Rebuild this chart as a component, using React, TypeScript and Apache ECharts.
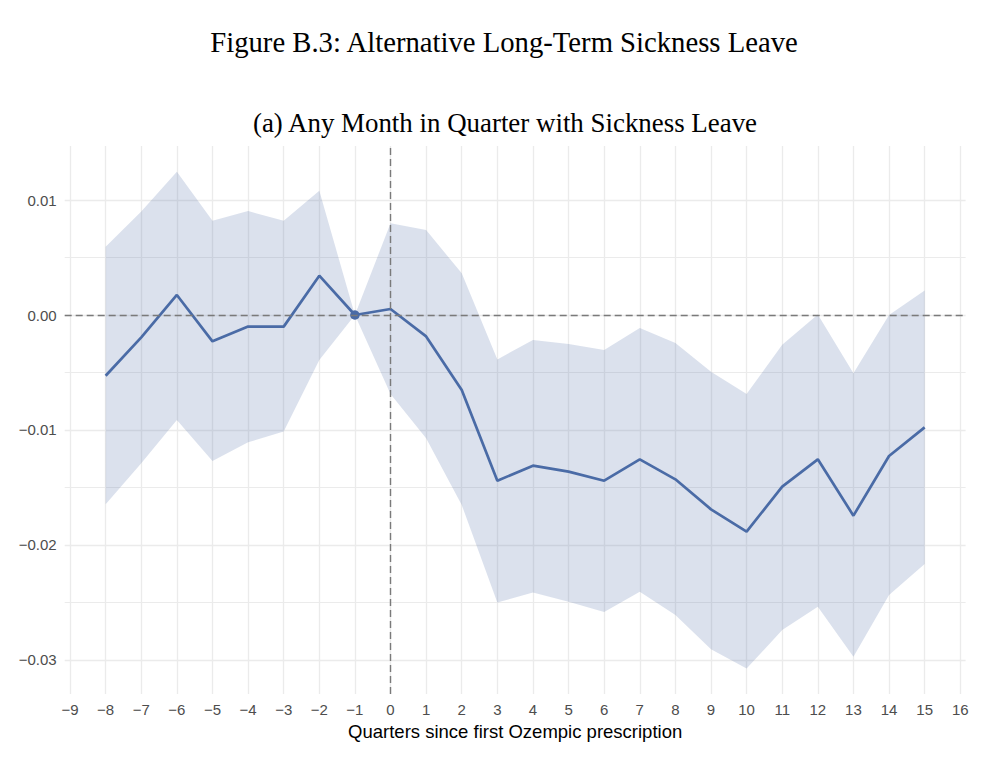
import React, { useEffect, useRef } from "react";
import * as echarts from "echarts";

const quarters = [-8, -7, -6, -5, -4, -3, -2, -1, 0, 1, 2, 3, 4, 5, 6, 7, 8, 9, 10, 11, 12, 13, 14, 15];
const estimates = [
  -0.00528, -0.00194, 0.00174, -0.00229, -0.00101, -0.00101, 0.00342, 0, 0.00052, -0.00186, -0.00652, -0.01441,
  -0.0131, -0.01362, -0.01441, -0.01255, -0.01429, -0.0169, -0.01884, -0.01493, -0.01255, -0.01745, -0.01226, -0.00977,
];
const ciUpper = [
  0.00594, 0.00901, 0.01246, 0.0082, 0.00904, 0.0082, 0.01081, 0, 0.00797, 0.00739, 0.00362, -0.00386,
  -0.00217, -0.00252, -0.00304, -0.00113, -0.00243, -0.00493, -0.00687, -0.00258, 0.00005, -0.00507, 0.0, 0.00212,
];
const ciLower = [
  -0.01646, -0.0129, -0.00913, -0.0127, -0.01107, -0.01014, -0.00391, 0, -0.00687, -0.01072, -0.01652, -0.02501,
  -0.02414, -0.02493, -0.02583, -0.02406, -0.02609, -0.02907, -0.03075, -0.02739, -0.02536, -0.02971, -0.02435, -0.02165,
];
const referencePoint = [-1, 0];
const xTicks = [-9, -8, -7, -6, -5, -4, -3, -2, -1, 0, 1, 2, 3, 4, 5, 6, 7, 8, 9, 10, 11, 12, 13, 14, 15, 16];
const yTicks = [-0.03, -0.02, -0.01, 0, 0.01];
const yMinorTicks = [-0.025, -0.015, -0.005, 0.005];

const titleText = "Figure B.3: Alternative Long-Term Sickness Leave";
const subtitleText = "(a) Any Month in Quarter with Sickness Leave";
const xAxisName = "Quarters since first Ozempic prescription";

const LINE_COLOR = "#4a6ba6";
const GRID_COLOR = "#ebebeb";
const SANS = "'Liberation Sans', Arial, sans-serif";
const SERIF = "'Liberation Serif', 'Times New Roman', serif";

const minus = (s: string) => s.replace("-", "\u2212");

export default function App() {
  const ref = useRef<HTMLDivElement>(null);

  useEffect(() => {
    document.body.style.margin = "0";
    if (!ref.current) return;
    const chart = echarts.init(ref.current, undefined, { renderer: "svg" });

    const bandData = quarters.map((q, i) => [q, ciLower[i], ciUpper[i]]);
    const yMin = -0.032957;
    const yMax = 0.014696;

    chart.setOption({
      animation: false,
      backgroundColor: "#ffffff",
      graphic: [
        {
          type: "text",
          x: 504,
          y: 42,
          style: {
            text: titleText,
            font: `28.7px ${SERIF}`,
            fill: "#000",
            textAlign: "center",
            textVerticalAlign: "middle",
          },
        },
        {
          type: "text",
          x: 505,
          y: 123,
          style: {
            text: subtitleText,
            font: `26.9px ${SERIF}`,
            fill: "#000",
            textAlign: "center",
            textVerticalAlign: "middle",
          },
        },
      ],
      grid: { left: 64.7, right: 25.4, top: 146, bottom: 66, containLabel: false },
      xAxis: {
        type: "value",
        min: -9.15,
        max: 16.15,
        name: xAxisName,
        nameLocation: "middle",
        nameGap: 21,
        nameTextStyle: { color: "#000", fontSize: 18.5, fontFamily: SANS },
        axisLine: { show: false },
        axisTick: { show: false, customValues: xTicks },
        axisLabel: {
          customValues: xTicks,
          color: "#4d4d4d",
          fontSize: 15,
          fontFamily: SANS,
          margin: 8,
          formatter: (v: number) => minus(String(v)),
        },
        splitLine: { show: true, lineStyle: { color: GRID_COLOR, width: 1.3 } },
      },
      yAxis: [
        {
          type: "value",
          min: yMin,
          max: yMax,
          axisLine: { show: false },
          axisTick: { show: false, customValues: yTicks },
          axisLabel: {
            customValues: yTicks,
            color: "#4d4d4d",
            fontSize: 15,
            fontFamily: SANS,
            margin: 8,
            formatter: (v: number) => (v < -1e-9 ? "\u2212" : "") + Math.abs(v).toFixed(2),
          },
          splitLine: { show: true, lineStyle: { color: GRID_COLOR, width: 1.3 } },
        },
        {
          type: "value",
          min: yMin,
          max: yMax,
          position: "left",
          axisLine: { show: false },
          axisTick: { show: false, customValues: yMinorTicks },
          axisLabel: { show: false, customValues: yMinorTicks },
          splitLine: { show: true, lineStyle: { color: GRID_COLOR, width: 1 } },
        },
      ],
      series: [
        {
          type: "custom",
          z: 1,
          data: bandData,
          encode: { x: 0, y: [1, 2] },
          renderItem: (params: any, api: any) => {
            if (params.dataIndex !== 0) return null;
            const upper = quarters.map((q, i) => api.coord([q, ciUpper[i]]));
            const lower = quarters.map((q, i) => api.coord([q, ciLower[i]])).reverse();
            return {
              type: "polygon",
              shape: { points: upper.concat(lower) },
              style: { fill: "rgba(74,107,166,0.2)", stroke: "none" },
              silent: true,
            };
          },
          markLine: {
            silent: true,
            symbol: "none",
            label: { show: false },
            lineStyle: { color: "#7a7a7a", width: 1.4, type: [7, 4] },
            data: [{ yAxis: 0 }, { xAxis: 0 }],
          },
        },
        {
          type: "line",
          z: 3,
          data: quarters.map((q, i) => [q, estimates[i]]),
          symbol: "none",
          lineStyle: { color: LINE_COLOR, width: 2.7 },
          itemStyle: { color: LINE_COLOR },
        },
        {
          type: "scatter",
          z: 4,
          data: [referencePoint],
          symbol: "circle",
          symbolSize: 9.5,
          itemStyle: { color: LINE_COLOR, opacity: 1 },
        },
      ],
    });

    return () => chart.dispose();
  }, []);

  return <div ref={ref} style={{ width: 991, height: 760 }} />;
}
